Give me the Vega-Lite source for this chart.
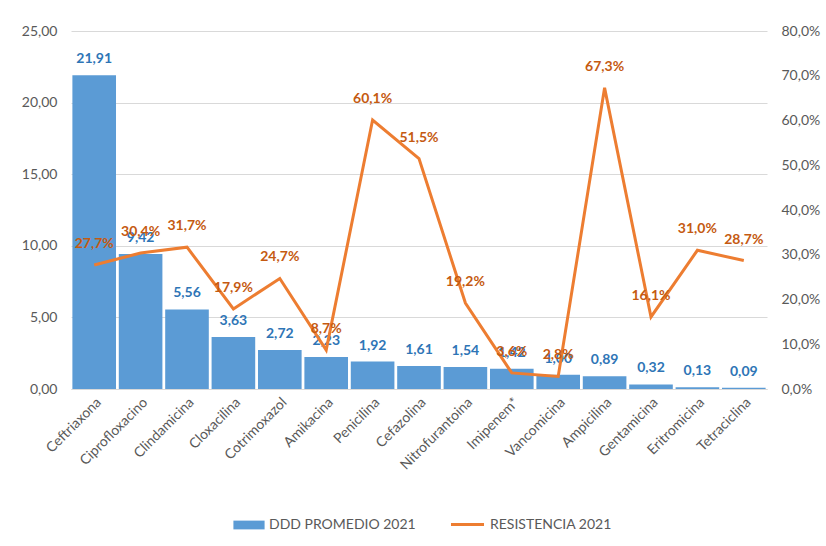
{
  "$schema": "https://vega.github.io/schema/vega-lite/v6.json",
  "width": 696,
  "height": 358,
  "padding": {"left": 21, "top": 24, "right": 10, "bottom": 5},
  "background": "white",
  "config": {
    "locale": {"number": {"decimal": ",", "thousands": ".", "grouping": [3], "currency": ["", " €"]}},
    "font": "Lato",
    "view": {"stroke": null},
    "axis": {"labelFont": "Lato", "labelFontSize": 14, "labelColor": "#595959", "titleFont": "Lato"},
    "legend": {"labelFont": "Lato", "labelFontSize": 14, "labelColor": "#595959"}
  },
  "data": {
    "values": [
      {"antibiotico": "Ceftriaxona", "ddd": 21.91, "res": 0.277},
      {"antibiotico": "Ciprofloxacino", "ddd": 9.42, "res": 0.304},
      {"antibiotico": "Clindamicina", "ddd": 5.56, "res": 0.317},
      {"antibiotico": "Cloxacilina", "ddd": 3.63, "res": 0.179},
      {"antibiotico": "Cotrimoxazol", "ddd": 2.72, "res": 0.247},
      {"antibiotico": "Amikacina", "ddd": 2.23, "res": 0.087},
      {"antibiotico": "Penicilina", "ddd": 1.92, "res": 0.601},
      {"antibiotico": "Cefazolina", "ddd": 1.61, "res": 0.515},
      {"antibiotico": "Nitrofurantoina", "ddd": 1.54, "res": 0.192},
      {"antibiotico": "Imipenem*", "ddd": 1.42, "res": 0.036},
      {"antibiotico": "Vancomicina", "ddd": 1.0, "res": 0.028},
      {"antibiotico": "Ampicilina", "ddd": 0.89, "res": 0.673},
      {"antibiotico": "Gentamicina", "ddd": 0.32, "res": 0.161},
      {"antibiotico": "Eritromicina", "ddd": 0.13, "res": 0.31},
      {"antibiotico": "Tetraciclina", "ddd": 0.09, "res": 0.287}
    ]
  },
  "encoding": {
    "x": {
      "field": "antibiotico",
      "type": "nominal",
      "sort": null,
      "scale": {"paddingInner": 0.06, "paddingOuter": 0.03},
      "axis": {"title": null, "labelAngle": -45, "ticks": false, "domainColor": "#D9D9D9", "labelPadding": 6}
    }
  },
  "layer": [
    {
      "layer": [
        {
          "mark": {"type": "bar", "color": "#5B9BD5"},
          "encoding": {
            "y": {
              "field": "ddd",
              "type": "quantitative",
              "scale": {"domain": [0, 25], "nice": false},
              "axis": {"title": null, "values": [0, 5, 10, 15, 20, 25], "format": ".2f", "gridColor": "#D9D9D9", "domain": false, "ticks": false, "labelPadding": 14}
            },
            "fill": {"datum": "DDD PROMEDIO 2021", "type": "nominal", "scale": {"range": ["#5B9BD5"]}, "legend": {"title": null, "orient": "none", "legendX": 168, "legendY": 484, "symbolType": "M-1.6,-0.45H1.6V0.45H-1.6Z", "symbolSize": 380, "symbolStrokeWidth": 0, "labelOffset": 10}}
          }
        },
        {
          "mark": {"type": "text", "baseline": "bottom", "dy": -9, "fontWeight": "bold", "fontSize": 14, "color": "#2E75B6"},
          "encoding": {
            "y": {"field": "ddd", "type": "quantitative"},
            "text": {"field": "ddd", "type": "quantitative", "format": ".2f"}
          }
        }
      ]
    },
    {
      "layer": [
        {
          "mark": {"type": "line", "strokeWidth": 3},
          "encoding": {
            "y": {
              "field": "res",
              "type": "quantitative",
              "scale": {"domain": [0, 0.8], "nice": false},
              "axis": {"title": null, "orient": "right", "values": [0, 0.1, 0.2, 0.3, 0.4, 0.5, 0.6, 0.7, 0.8], "format": ".1%", "grid": false, "domain": false, "ticks": false, "labelPadding": 14}
            },
            "stroke": {"datum": "RESISTENCIA 2021", "type": "nominal", "scale": {"range": ["#ED7D31"]}, "legend": {"title": null, "orient": "none", "legendX": 378, "legendY": 475, "symbolType": "stroke", "symbolStrokeWidth": 3, "symbolSize": 1090, "labelOffset": 4}}
          }
        },
        {
          "mark": {"type": "text", "baseline": "bottom", "dy": -14, "fontWeight": "bold", "fontSize": 14, "color": "#C55A11"},
          "encoding": {
            "y": {"field": "res", "type": "quantitative"},
            "text": {"field": "res", "type": "quantitative", "format": ".1%"}
          }
        }
      ]
    }
  ],
  "resolve": {"scale": {"y": "independent", "fill": "independent", "stroke": "independent"}}
}
